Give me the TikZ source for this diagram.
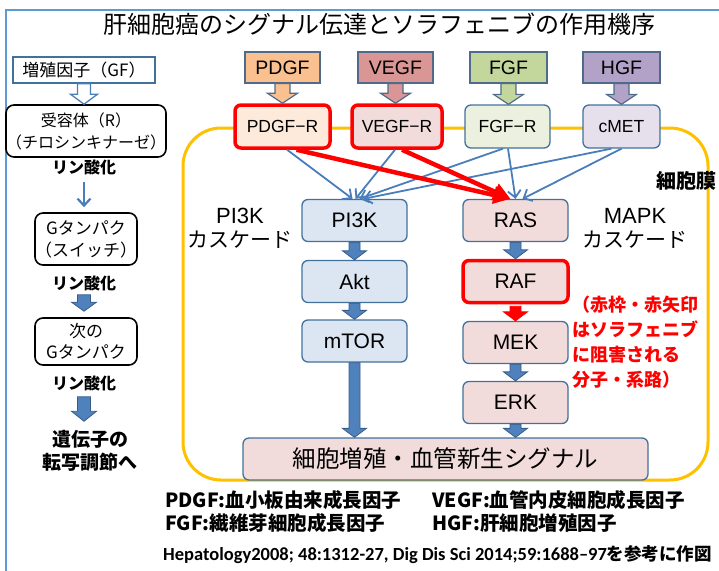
\documentclass[tikz,border=0pt]{standalone}
\usepackage{fontspec}
\setmainfont{Noto Sans CJK JP}
\newfontfamily\lat{Liberation Sans}
\newfontfamily\carl{Carlito}
\usetikzlibrary{arrows.meta,calc}
\newcommand\fsz[2]{\fontsize{#1pt}{#2pt}\selectfont}
\definecolor{framec}{HTML}{5B9BD5}
\definecolor{gold}{HTML}{FFC000}
\definecolor{bluefill}{HTML}{DCE6F2}
\definecolor{boxline}{HTML}{41719C}
\definecolor{pinkfill}{HTML}{F2DCDB}
\definecolor{arrowblue}{HTML}{4A7EBB}
\definecolor{blockfill}{HTML}{4F81BD}
\definecolor{blockline}{HTML}{385D8A}
\definecolor{pdgfc}{HTML}{FAC090}
\definecolor{vegfc}{HTML}{D99694}
\definecolor{fgfc}{HTML}{C3D69B}
\definecolor{hgfc}{HTML}{B3A2C7}
\definecolor{pdgfrc}{HTML}{FDEADA}
\definecolor{vegfrc}{HTML}{F2DCDB}
\definecolor{fgfrc}{HTML}{EBF1DE}
\definecolor{cmetc}{HTML}{E5E0EC}
\definecolor{ligline}{HTML}{4F6A8A}
\definecolor{redc}{HTML}{FF0000}
\newcommand{\varrow}[6]{%
  \draw[#6] let \p1=(#1), \p2=(#2) in
    (\x1-#3,\y1) -- (\x1+#3,\y1) -- (\x1+#3,\y2+#5) -- (\x1+#4,\y2+#5)
    -- (\x1,\y2) -- (\x1-#4,\y2+#5) -- (\x1-#3,\y2+#5) -- cycle;}
\tikzset{
  box/.style={draw=boxline, line width=1.3pt, rounded corners=6pt, inner sep=0pt, align=center},
  pbox/.style={box, fill=bluefill, minimum width=105pt, minimum height=42pt, font=\lat\fsz{21}{24}},
  rbox/.style={pbox, fill=pinkfill},
  redline/.style={draw=redc, line width=3.5pt},
  lig/.style={draw=ligline, line width=1.2pt, inner sep=0pt, minimum height=31pt, font=\lat\fsz{19.5}{22}},
  rec/.style={box, minimum height=43pt, font=\lat\fsz{17.5}{20}},
  leftbox/.style={draw=black, line width=1.6pt, rounded corners=8pt, inner sep=0pt, align=center},
  lbl/.style={inner sep=1pt, font=\bfseries\fsz{16}{18}},
  thinarrow/.style={draw=arrowblue, line width=1.8pt, -{Straight Barb[length=7pt,width=13pt]}},
  redarrow/.style={draw=redc, line width=4.5pt, -{Triangle[length=17pt,width=17pt]}},
  blockarrow/.style={fill=blockfill, draw=blockline, line width=0.8pt},
  redblock/.style={fill=redc, draw=redc, line width=0.8pt},
  hollowarrow/.style={fill=white, draw=arrowblue, line width=1.3pt},
  ligarrow/.style={draw=ligline, line width=1.2pt},
  leg/.style={inner sep=0pt, anchor=west, font=\bfseries\fsz{19.5}{22}},
  cas/.style={inner sep=0pt, align=center, font=\fsz{21}{24}}
}
\begin{document}
\begin{tikzpicture}[x=1pt,y=-1pt]
\useasboundingbox (0,0) rectangle (719,570);
% frame
\draw[framec, line width=2pt] (6,572) -- (6,10) -- (721,10);
% title
\node[inner sep=0pt, font=\fsz{24}{28}] (title) at (379,24) {肝細胞癌のシグナル伝達とソラフェニブの作用機序};

% ---------- left column ----------
\node[draw=boxline, line width=1.3pt, fill=white, minimum width=142pt, minimum height=26pt, inner sep=0pt, font=\fsz{17}{19}] (gf) at (84,70) {増殖因子（GF）};
\node[leftbox, minimum width=158pt, minimum height=52pt, font=\fsz{16}{22}] (r) at (86,131) {受容体（R）\\（チロシンキナーゼ）};
\varrow{gf.south}{r.north}{6.5pt}{13.5pt}{10pt}{hollowarrow}
\node[lbl] (p1) at (84,167) {リン酸化};
\node[leftbox, minimum width=102pt, minimum height=52pt, font=\fsz{17}{22}] (g1) at (86,239) {Gタンパク\\（スイッチ）};
\draw[thinarrow, line width=2.2pt, shorten <=6pt, shorten >=5pt] (p1.south) -- (p1.south |- g1.north);
\node[lbl] (p2) at (84,283) {リン酸化};
\node[leftbox, minimum width=102pt, minimum height=47pt, font=\fsz{17}{21}] (g2) at (86,341.5) {次の\\Gタンパク};
\varrow{[yshift=-3pt]p2.south}{[yshift=6pt]g2.north}{6.5pt}{12.5pt}{9pt}{blockarrow}
\node[lbl] (p3) at (84,383) {リン酸化};
\node[inner sep=1pt, align=center, font=\bfseries\fsz{19}{23}] (gene) at (90,451) {遺伝子の\\転写調節へ};
\varrow{[yshift=-5pt]p3.south}{[yshift=8pt]gene.north}{6.5pt}{12.5pt}{10pt}{blockarrow}

% ---------- membrane ----------
\draw[gold, line width=3pt, rounded corners=38pt] (183,128) rectangle (708,480);
\node[inner sep=0pt, font=\bfseries\fsz{20}{22}] (mem) at (686,181) {細胞膜};

% ligands
\node[lig, fill=pdgfc, minimum width=75pt] (pdgf) at (282.5,67.5) {PDGF};
\node[lig, fill=vegfc, minimum width=75pt] (vegf) at (395.5,67.5) {VEGF};
\node[lig, fill=fgfc, minimum width=77pt] (fgf) at (508.5,67.5) {FGF};
\node[lig, fill=hgfc, minimum width=77pt] (hgf) at (621.5,67.5) {HGF};
% receptors
\node[rec, redline, fill=pdgfrc, minimum width=95pt] (pdgfr) at (282.5,126.5) {PDGF−R};
\node[rec, redline, fill=vegfrc, minimum width=90pt] (vegfr) at (397,126.5) {VEGF−R};
\node[rec, fill=fgfrc, minimum width=85pt] (fgfr) at (507.5,126.5) {FGF−R};
\node[rec, fill=cmetc, minimum width=77pt] (cmet) at (621.5,126.5) {cMET};
\varrow{pdgf.south}{pdgfr.north}{7.5pt}{15pt}{10pt}{ligarrow, fill=pdgfc}
\varrow{vegf.south}{vegfr.north}{7.5pt}{15pt}{10pt}{ligarrow, fill=vegfc}
\varrow{fgf.south}{fgfr.north}{7.5pt}{15pt}{10pt}{ligarrow, fill=fgfc}
\varrow{hgf.south}{cmet.north}{7.5pt}{15pt}{10pt}{ligarrow, fill=hgfc}

% pathway boxes
\node[pbox] (pi3k) at (354.5,220.5) {PI3K};
\node[pbox] (akt) at (354.5,281.5) {Akt};
\node[pbox] (mtor) at (354.5,341) {mTOR};
\node[rbox] (ras) at (515.5,220.5) {RAS};
\node[rbox, redline] (raf) at (515.5,281.5) {RAF};
\node[rbox] (mek) at (515.5,342.5) {MEK};
\node[rbox] (erk) at (515.5,402.5) {ERK};
\node[box, fill=pinkfill, minimum width=405pt, minimum height=42pt, font=\fsz{23.5}{26}] (sig) at (445.5,459) {細胞増殖・血管新生シグナル};

% cascade labels
\node[cas] (pic) at (240,228) {{\lat\fsz{22}{24}PI3K}\\カスケード};
\node[cas] (mapk) at (635,228) {{\lat\fsz{22}{24}MAPK}\\カスケード};

% thin arrows
\draw[thinarrow] ([xshift=4.5pt]pdgfr.south) -- ([xshift=-2pt]pi3k.north);
\draw[thinarrow] ([xshift=-2pt]vegfr.south) -- ([xshift=1pt]pi3k.north);
\draw[thinarrow] ([xshift=-4.5pt]fgfr.south) -- ([xshift=5pt]pi3k.north);
\draw[thinarrow] ([xshift=-10pt]cmet.south) -- ([xshift=9pt]pi3k.north);
\draw[thinarrow] ([xshift=0.5pt]fgfr.south) -- ([xshift=0pt]ras.north);
\draw[thinarrow] ([xshift=0pt]cmet.south) -- ([xshift=7pt]ras.north);
% red arrows
\draw[redarrow] ([xshift=14pt]pdgfr.south) -- ([xshift=-5pt]ras.north);
\draw[redarrow] ([xshift=5pt]vegfr.south) -- ([xshift=-5pt]ras.north);

% block arrows in pathway
\varrow{pi3k.south}{akt.north}{5.5pt}{12pt}{9pt}{blockarrow}
\varrow{akt.south}{mtor.north}{5.5pt}{12pt}{9pt}{blockarrow}
\varrow{mtor.south}{sig.north}{5.5pt}{12pt}{9pt}{blockarrow}
\varrow{ras.south}{raf.north}{5.5pt}{12pt}{9pt}{blockarrow}
\varrow{[yshift=-2pt]raf.south}{mek.north}{5.5pt}{12pt}{9pt}{redblock}
\varrow{mek.south}{erk.north}{5.5pt}{12pt}{9pt}{blockarrow}
\varrow{erk.south}{sig.north}{5.5pt}{12pt}{9pt}{blockarrow}

% red note
\node[anchor=north west, inner sep=0pt, align=left, text=redc, font=\bfseries\fsz{18}{25}] (note) at (572,296) {（赤枠・赤矢印\\はソラフェニブ\\に阻害される\\分子・系路）};

% legend
\node[leg] (l1) at (165,500) {PDGF:血小板由来成長因子};
\node[leg] (l2) at (432,500) {VEGF:血管内皮細胞成長因子};
\node[leg] (l3) at (165,523) {FGF:繊維芽細胞成長因子};
\node[leg] (l4) at (432,523) {HGF:肝細胞増殖因子};
\node[inner sep=0pt, anchor=west, font=\fsz{18.5}{20}] (foot) at (163,555) {{\carl\bfseries Hepatology2008; 48:1312-27, Dig Dis Sci 2014;59:1688–97}{\bfseries\fsz{17.5}{20}を参考に作図}};
\end{tikzpicture}
\end{document}
